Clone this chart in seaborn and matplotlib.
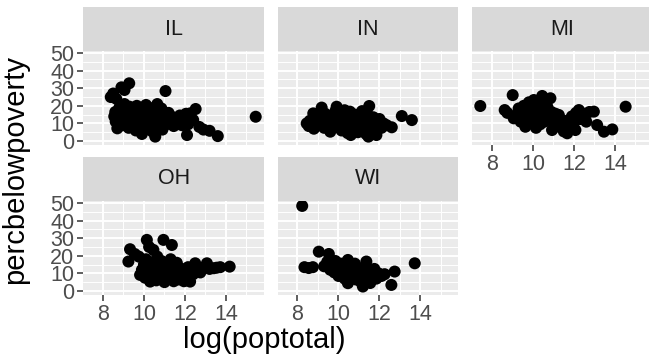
import matplotlib
matplotlib.use("Agg")
import matplotlib.pyplot as plt
import numpy as np
import pandas as pd
import seaborn as sns
from matplotlib.patches import Rectangle
from matplotlib.ticker import FixedLocator

# ---- county data: log(total population) and percent below poverty, by state ----
states = ["IL", "IN", "MI", "OH", "WI"]

il_logpop = [8.38, 8.50, 8.65, 8.90, 9.28, 9.05, 11.05, 15.45, 12.52, 12.10, 13.60, 13.20, 12.70, 12.90,
             8.55, 8.60, 8.62, 8.70, 8.80, 8.85, 8.95, 9.00, 9.05, 9.10, 9.15, 9.20, 9.25, 9.30, 9.35,
             9.40, 9.45, 9.50, 9.55, 9.60, 9.65, 9.70, 9.75, 9.80, 9.85, 9.90, 9.95, 10.00, 10.05, 10.10,
             10.15, 10.20, 10.25, 10.30, 10.35, 10.40, 10.45, 10.50, 10.55, 10.60, 10.65, 10.70, 10.75,
             10.80, 10.85, 10.90, 10.95, 11.00, 11.10, 11.20, 11.30, 11.35, 11.45, 11.55, 11.65, 11.75,
             11.85, 11.95, 12.05, 12.25, 12.15, 12.40]
il_pov = [25.0, 27.0, 24.0, 30.5, 32.8, 29.0, 28.4, 13.8, 18.2, 3.4, 2.8, 5.8, 8.0, 6.5,
          14.0, 16.5, 11.0, 7.2, 19.0, 12.5, 9.0, 15.5, 21.0, 17.5, 13.0, 10.5, 7.5, 19.5, 15.0,
          12.0, 9.5, 17.0, 13.5, 6.0, 20.0, 11.0, 15.5, 8.5, 18.0, 4.0, 13.0, 10.0, 16.0, 20.5,
          7.0, 12.5, 14.5, 9.0, 17.5, 5.5, 11.5, 19.0, 2.5, 13.5, 21.0, 8.0, 15.0,
          10.5, 18.5, 6.5, 12.0, 14.0, 9.5, 16.0, 11.0, 13.8, 8.5, 12.5, 10.0, 14.5,
          9.0, 11.8, 15.5, 15.7, 9.5, 12.0]

in_logpop = [8.45, 8.55, 8.60, 8.77, 8.80, 8.90, 9.00, 9.05, 9.18, 9.20, 9.30, 9.35, 9.45, 9.55,
             9.60, 9.65, 9.75, 9.85, 9.91, 9.95, 10.00, 10.10, 10.15, 10.20, 10.25, 10.30, 10.35,
             10.40, 10.45, 10.50, 10.56, 10.60, 10.62, 10.70, 10.75, 10.80, 10.85, 10.90, 10.95,
             11.00, 11.05, 11.10, 11.15, 11.20, 11.25, 11.30, 11.35, 11.40, 11.46, 11.50, 11.55,
             11.60, 11.65, 11.70, 11.80, 11.85, 11.90, 12.00, 12.10, 12.20, 12.35, 12.60, 13.09, 13.58]
in_pov = [10.0, 8.5, 11.5, 15.7, 7.0, 12.5, 9.5, 14.0, 19.0, 11.0, 7.5, 15.5, 12.5, 9.0,
          5.3, 14.0, 11.0, 17.0, 19.5, 8.0, 12.5, 15.5, 6.0, 10.0, 13.5, 17.5, 8.5,
          11.5, 4.5, 14.0, 16.7, 3.4, 9.5, 12.0, 6.5, 15.0, 10.5, 13.0, 5.0,
          8.0, 11.5, 14.5, 17.0, 7.0, 10.0, 12.5, 4.0, 15.5, 2.5, 19.9, 9.0,
          11.5, 6.0, 13.5, 8.5, 3.4, 11.0, 12.5, 7.5, 10.0, 9.0, 7.8, 14.2, 11.9]

mi_logpop = [7.43, 8.62, 8.75, 9.01, 9.06, 9.20, 9.30, 9.40, 9.50, 9.55, 9.63, 9.70, 9.75, 9.80,
             9.85, 9.90, 9.95, 10.04, 10.05, 10.10, 10.15, 10.20, 10.25, 10.30, 10.35, 10.40, 10.45,
             10.50, 10.55, 10.60, 10.65, 10.70, 10.75, 10.85, 10.90, 10.93, 11.00, 11.05, 11.10,
             11.20, 11.26, 11.30, 11.40, 11.50, 11.55, 11.67, 11.75, 11.80, 11.90, 12.00, 12.07,
             12.10, 12.24, 12.30, 12.50, 12.60, 12.75, 12.97, 13.13, 13.46, 13.87, 14.52]
mi_pov = [19.9, 17.6, 16.0, 26.1, 12.9, 15.0, 18.5, 11.0, 14.0, 20.0, 8.1, 16.5, 12.0, 22.0,
          18.0, 10.0, 14.5, 23.3, 20.0, 16.0, 7.5, 12.5, 18.5, 21.5, 9.5, 14.0, 25.6,
          17.0, 11.0, 22.0, 15.0, 19.5, 12.5, 24.3, 16.5, 6.25, 13.5, 9.5, 15.5,
          11.5, 14.8, 8.0, 12.0, 5.5, 10.0, 4.4, 11.9, 8.5, 14.0, 10.5, 6.25,
          16.0, 17.6, 12.5, 15.5, 11.0, 16.5, 16.7, 9.1, 5.3, 6.6, 19.5]

oh_logpop = [9.24, 9.32, 9.55, 9.75, 9.81, 9.90, 10.00, 10.05, 10.10, 10.14, 10.20, 10.25, 10.30,
             10.35, 10.40, 10.46, 10.50, 10.55, 10.60, 10.65, 10.70, 10.75, 10.80, 10.85, 10.90,
             10.95, 11.00, 11.05, 11.10, 11.15, 11.20, 11.25, 11.30, 11.36, 11.40, 11.45, 11.50,
             11.55, 11.60, 11.65, 11.70, 11.75, 11.80, 11.90, 11.95, 12.00, 12.10, 12.15, 12.25,
             12.30, 12.40, 12.50, 12.60, 12.75, 12.90, 13.07, 13.20, 13.40, 13.55, 13.72, 14.18]
oh_pov = [16.7, 23.7, 21.0, 19.5, 9.1, 12.0, 15.0, 7.5, 18.0, 29.0, 11.0, 25.0, 5.3,
          14.0, 9.0, 23.3, 16.5, 12.0, 6.0, 19.5, 10.0, 14.5, 8.0, 17.0, 11.5,
          29.0, 5.0, 13.0, 9.5, 15.5, 7.0, 12.0, 18.0, 26.1, 10.0, 5.5, 14.0,
          8.5, 16.0, 11.0, 6.5, 13.0, 9.0, 12.0, 5.5, 10.5, 8.0, 13.5, 5.3,
          11.0, 9.5, 15.7, 12.0, 10.5, 13.0, 15.7, 12.5, 12.9, 13.2, 13.5, 13.8]

wi_logpop = [8.23, 8.34, 8.55, 8.75, 9.04, 9.30, 9.45, 9.53, 9.60, 9.70, 9.80, 9.85, 9.95, 10.00,
             10.10, 10.15, 10.25, 10.30, 10.35, 10.40, 10.46, 10.46, 10.55, 10.60, 10.65, 10.75,
             10.80, 10.85, 10.90, 11.00, 11.05, 11.10, 11.19, 11.25, 11.30, 11.36, 11.40, 11.50,
             11.55, 11.65, 11.75, 11.85, 11.95, 12.10, 12.25, 12.58, 12.74, 13.72]
wi_pov = [48.3, 13.5, 13.0, 13.5, 22.3, 14.0, 16.5, 21.0, 12.0, 15.0, 10.5, 17.0, 13.0, 8.5,
          15.5, 11.0, 13.5, 7.0, 16.0, 10.0, 17.6, 4.4, 12.5, 14.5, 8.5, 11.0,
          15.5, 6.5, 13.0, 9.5, 12.0, 5.0, 2.5, 10.5, 14.0, 16.7, 8.0, 11.5,
          4.5, 9.5, 12.5, 7.0, 10.0, 8.5, 9.5, 3.4, 11.0, 15.7]

x_ticks = [8, 10, 12, 14]
y_ticks = [0, 10, 20, 30, 40, 50]

frames = []
for st, xs, ys in [("IL", il_logpop, il_pov), ("IN", in_logpop, in_pov), ("MI", mi_logpop, mi_pov),
                   ("OH", oh_logpop, oh_pov), ("WI", wi_logpop, wi_pov)]:
    frames.append(pd.DataFrame({"state": st, "logpop": xs, "pov": ys}))
df = pd.concat(frames, ignore_index=True)

# ---- theme ----
sns.set_style("darkgrid", {"axes.facecolor": "#EBEBEB", "grid.color": "white"})
plt.rcParams["font.family"] = ["Liberation Sans", "DejaVu Sans"]

g = sns.FacetGrid(df, col="state", col_wrap=3, col_order=states,
                  sharex=True, sharey=True, height=1.5, aspect=1.3)
g.map_dataframe(sns.scatterplot, x="logpop", y="pov", color="black",
                s=75, linewidth=0, edgecolor="none")
g.set_titles("")
g.set_axis_labels("", "")

fig = g.figure
fig.set_size_inches(6.49, 3.60)
W, H = 649.0, 360.0

col_left = [83.3, 277.8, 472.3]
panel_w = 180.6
row_top = [51.1, 201.0]
panel_h = 94.2
strip_h = 44.0

for i, (st, ax) in enumerate(zip(states, g.axes.flat)):
    r, c = divmod(i, 3)
    ax.set_position([col_left[c] / W, (H - row_top[r] - panel_h) / H, panel_w / W, panel_h / H])
    ax.set_xlim(7.04, 15.85)
    ax.set_ylim(-2.43, 51.1)
    ax.xaxis.set_major_locator(FixedLocator(x_ticks))
    ax.yaxis.set_major_locator(FixedLocator(y_ticks))
    ax.xaxis.set_minor_locator(FixedLocator([7, 9, 11, 13, 15]))
    ax.yaxis.set_minor_locator(FixedLocator([5, 15, 25, 35, 45]))
    ax.grid(which="major", color="white", linewidth=1.4)
    ax.grid(which="minor", color="white", linewidth=0.7)
    ax.set_axisbelow(True)
    for sp in ax.spines.values():
        sp.set_visible(False)
    is_bottom = (i + 3 >= len(states))
    is_left = (c == 0)
    ax.tick_params(which="major", bottom=is_bottom, labelbottom=is_bottom,
                   left=is_left, labelleft=is_left, length=4, width=1.1,
                   color="#333333", labelcolor="#4D4D4D", labelsize=15.5, pad=2.5)
    ax.tick_params(which="minor", length=0)
    ax.set_xlabel("")
    ax.set_ylabel("")
    # facet strip
    ax.add_patch(Rectangle((0, 1), 1, strip_h / panel_h, transform=ax.transAxes,
                           facecolor="#D9D9D9", edgecolor="none", clip_on=False))
    ax.text(0.5, 1 + strip_h / panel_h / 2, st, transform=ax.transAxes, ha="center",
            va="center", fontsize=15.5, color="#1A1A1A")

fig.text(264 / W, 1 - 340 / H, "log(poptotal)", ha="center", va="center", fontsize=21, color="black")
fig.text(15 / W, 1 - 170 / H, "percbelowpoverty", ha="center", va="center", rotation=90,
         fontsize=21, color="black")

fig.savefig("out.png", dpi=100, facecolor="white")
